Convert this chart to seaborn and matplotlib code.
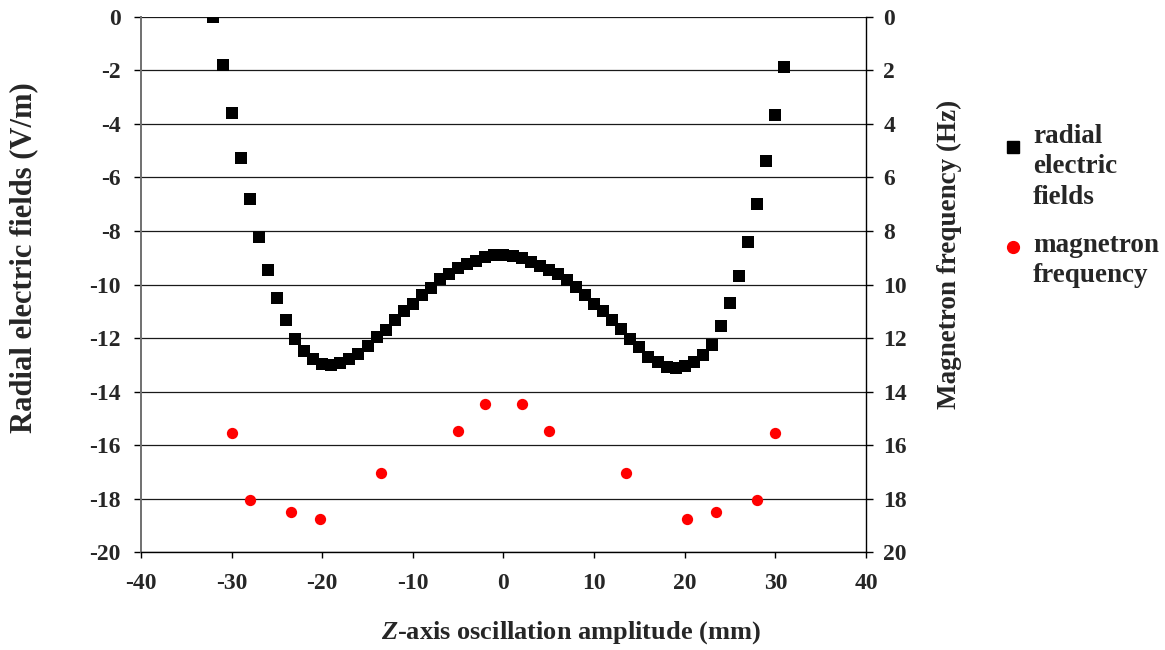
import matplotlib
matplotlib.use("Agg")
import matplotlib.pyplot as plt
import seaborn as sns
import pandas as pd
from matplotlib.lines import Line2D

# Radial electric field vs. axial oscillation amplitude
amplitude_mm = list(range(-32, 32))
radial_field = [
    0.0, -1.82, -3.58, -5.29, -6.82, -8.24, -9.47, -10.51,
    -11.34, -12.02, -12.49, -12.77, -12.96, -12.99, -12.92, -12.80,
    -12.60, -12.30, -11.97, -11.69, -11.34, -11.00, -10.71, -10.38,
    -10.13, -9.81, -9.59, -9.40, -9.24, -9.11, -8.99, -8.91,
    -8.90, -8.92, -9.02, -9.15, -9.31, -9.44, -9.62, -9.84,
    -10.11, -10.38, -10.71, -10.99, -11.34, -11.66, -12.04, -12.32,
    -12.69, -12.90, -13.07, -13.12, -13.03, -12.90, -12.65, -12.26,
    -11.55, -10.70, -9.70, -8.43, -7.00, -5.40, -3.68, -1.89,
]

# Magnetron frequency at selected amplitudes (right axis)
freq_amplitude_mm = [-30, -28, -23.4, -20.2, -13.5, -5, -2,
                     2, 5, 13.5, 20.2, 23.4, 28, 30]
magnetron_hz = [15.55, 18.05, 18.5, 18.75, 17.05, 15.47, 14.45,
                14.45, 15.47, 17.05, 18.75, 18.5, 18.05, 15.55]

x_ticks = [-40, -30, -20, -10, 0, 10, 20, 30, 40]
left_ticks = [-20, -18, -16, -14, -12, -10, -8, -6, -4, -2, 0]
right_ticks = [0, 2, 4, 6, 8, 10, 12, 14, 16, 18, 20]

legend_labels = ["radial\nelectric\nfields", "magnetron\nfrequency"]

field_df = pd.DataFrame({"z": amplitude_mm, "E": radial_field})
freq_df = pd.DataFrame({"z": freq_amplitude_mm, "f": magnetron_hz})

sns.set_theme(style="white")
plt.rcParams["font.family"] = ["Liberation Serif", "DejaVu Serif"]
plt.rcParams["font.weight"] = "bold"
plt.rcParams["axes.labelweight"] = "bold"
plt.rcParams["axes.unicode_minus"] = False
plt.rcParams["mathtext.fontset"] = "custom"
plt.rcParams["mathtext.it"] = "Liberation Serif:italic:bold"
plt.rcParams["mathtext.rm"] = "Liberation Serif:bold"

W, H = 1165, 650
fig = plt.figure(figsize=(W / 100, H / 100), dpi=100)
ax = fig.add_axes([0.121, 0.1503, 0.6223, 0.8240])

sns.scatterplot(data=field_df, x="z", y="E", ax=ax, marker="s", s=80,
                color="black", linewidth=0, zorder=3, legend=False)

ax.set_xlim(-40, 40)
ax.set_ylim(-20, 0)
ax.set_xticks(x_ticks)
ax.set_yticks(left_ticks)
ax.yaxis.grid(True, color="#1a1a1a", linewidth=0.9)
ax.xaxis.grid(False)
ax.set_axisbelow(True)

for side in ("top", "right"):
    ax.spines[side].set_visible(False)
ax.spines["left"].set_color("#707070")
ax.spines["left"].set_linewidth(1.4)
ax.spines["bottom"].set_color("black")
ax.spines["bottom"].set_linewidth(1.0)

ax.tick_params(axis="x", bottom=True, direction="out", length=4.5, width=1,
               color="black", labelsize=17, pad=10.5)
ax.tick_params(axis="y", left=True, direction="out", length=5, width=1,
               color="black", labelsize=17, pad=9.5)

ax.set_xlabel("$Z$-axis oscillation amplitude (mm)", fontsize=19)
ax.xaxis.set_label_coords(0.593, -0.125)
ax.set_ylabel("Radial electric fields (V/m)", fontsize=22)
ax.yaxis.set_label_coords(-0.142, 0.55)

ax2 = ax.twinx()
sns.scatterplot(data=freq_df, x="z", y="f", ax=ax2, marker="o", s=66,
                color="#ff0000", linewidth=0, zorder=3, legend=False)
ax2.set_ylim(20, 0)
ax2.set_yticks(right_ticks)
ax2.grid(False)
for side in ("top", "left", "bottom"):
    ax2.spines[side].set_visible(False)
ax2.spines["right"].set_color("black")
ax2.spines["right"].set_linewidth(1.0)
ax2.tick_params(axis="y", right=True, direction="out", length=5, width=1,
                color="black", labelsize=17, pad=7.5)
ax2.set_ylabel("Magnetron frequency (Hz)", fontsize=19.5)
ax2.yaxis.set_label_coords(1.098, 0.556)

# Legend keys and wrapped labels at the right of the plot
key_x = 1013 / W
text_x = 1033 / W
fig.add_artist(Line2D([key_x], [1 - 147 / H], transform=fig.transFigure,
                      marker="s", ls="", color="black", markersize=8.5))
fig.add_artist(Line2D([key_x], [1 - 247 / H], transform=fig.transFigure,
                      marker="o", ls="", color="#ff0000", markersize=8.5))
fig.text(text_x, 1 - 124 / H, legend_labels[0], fontsize=19.5,
         ha="left", va="top", linespacing=1.28)
fig.text(text_x, 1 - 233 / H, legend_labels[1], fontsize=19.5,
         ha="left", va="top", linespacing=1.28)

fig.savefig("out.png", dpi=100)
